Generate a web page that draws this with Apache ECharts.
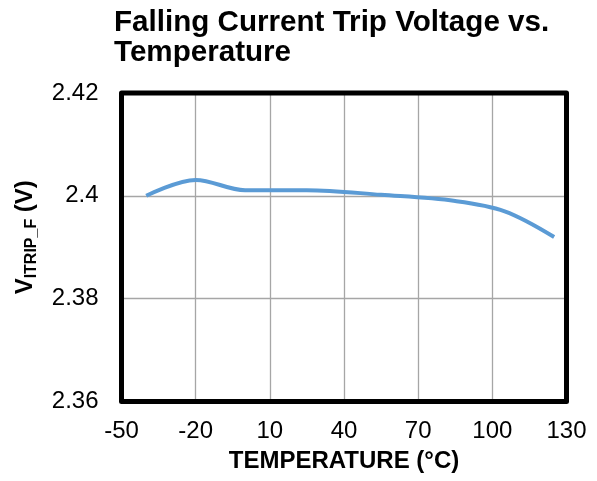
<!DOCTYPE html>
<html>
<head>
<meta charset="utf-8">
<script src="https://cdn.jsdelivr.net/npm/echarts@6/dist/echarts.min.js"></script>
<style>
  html, body { margin: 0; padding: 0; background: #fff; }
  #chart { width: 597px; height: 481px; }
</style>
</head>
<body>
<div id="chart"></div>
<script>
// Trip voltage (V) measured at each temperature (°C)
const temperatures = [-40, -20, 0, 25, 55, 85, 105, 125];
const tripVoltage = [2.4000, 2.4031, 2.4011, 2.4011, 2.4002, 2.3990, 2.3970, 2.3920];

const xTicks = { min: -50, max: 130, interval: 30 };
const yTicks = { min: 2.36, max: 2.42, interval: 0.02 };

const W = 597, H = 481;
const plot = { left: 121.5, right: 30.5, top: 93, bottom: 79.5 };

const chart = echarts.init(document.getElementById('chart'), null, { renderer: 'canvas' });
const font = 'Arial, "Liberation Sans", sans-serif';

chart.setOption({
  animation: false,
  backgroundColor: '#fff',
  title: {
    text: 'Falling Current Trip Voltage vs.\nTemperature',
    left: 114,
    top: 8,
    padding: 0,
    textStyle: { fontFamily: font, fontSize: 29.6, fontWeight: 'bold', color: '#000', lineHeight: 30 }
  },
  grid: {
    left: plot.left, right: plot.right, top: plot.top, bottom: plot.bottom,
    show: false
  },
  // heavy frame around the plotting area, drawn above the gridlines
  graphic: [{
    type: 'rect',
    z: 100,
    silent: true,
    shape: {
      x: plot.left, y: plot.top,
      width: W - plot.left - plot.right,
      height: H - plot.top - plot.bottom
    },
    style: { fill: 'none', stroke: '#000', lineWidth: 5, lineJoin: 'round' }
  }],
  xAxis: {
    type: 'value',
    min: xTicks.min, max: xTicks.max, interval: xTicks.interval,
    name: 'TEMPERATURE (°C)',
    nameLocation: 'middle',
    nameGap: 48,
    nameTextStyle: { fontFamily: font, fontSize: 24, fontWeight: 'bold', color: '#000' },
    axisLine: { show: false },
    axisTick: { show: false },
    axisLabel: { fontFamily: font, fontSize: 24, color: '#000', margin: 18 },
    splitLine: { show: true, lineStyle: { color: '#a6a6a6', width: 1.3 } }
  },
  yAxis: {
    type: 'value',
    min: yTicks.min, max: yTicks.max, interval: yTicks.interval,
    name: '{v|V}{s|ITRIP_F}{v| (V)}',
    nameLocation: 'middle',
    nameRotate: 90,
    nameGap: 82,
    nameTextStyle: {
      padding: [0, 0, 0, 20],
      rich: {
        v: { fontFamily: font, fontSize: 24, fontWeight: 'bold', color: '#000', lineHeight: 28 },
        s: { fontFamily: font, fontSize: 16, fontWeight: 'bold', color: '#000', lineHeight: 28, padding: [12, 0, 0, 0] }
      }
    },
    axisLine: { show: false },
    axisTick: { show: false },
    axisLabel: {
      fontFamily: font, fontSize: 24, color: '#000', margin: 23,
      formatter: v => String(parseFloat(v.toFixed(2)))
    },
    splitLine: { show: true, lineStyle: { color: '#a6a6a6', width: 1.3 } }
  },
  series: [{
    type: 'line',
    data: temperatures.map((t, i) => [t, tripVoltage[i]]),
    smooth: 0.35,
    showSymbol: false,
    lineStyle: { color: '#5b9bd5', width: 4 },
    itemStyle: { color: '#5b9bd5' }
  }]
});
</script>
</body>
</html>
